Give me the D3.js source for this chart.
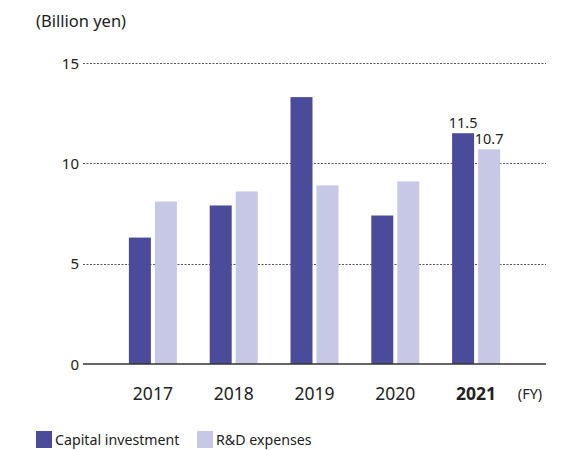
<!DOCTYPE html>
<html>
<head>
<meta charset="utf-8">
<script src="https://cdn.jsdelivr.net/npm/d3@7"></script>
<style>
  html, body { margin: 0; padding: 0; background: #fff; }
  svg { display: block; font-family: "Noto Sans", "Open Sans", sans-serif; }
</style>
</head>
<body>
<svg id="chart" width="579" height="450"></svg>
<script>
// Fiscal years and the two series (billion yen)
const years = ["2017", "2018", "2019", "2020", "2021"];
const capitalInvestment = [6.3, 7.9, 13.3, 7.4, 11.5];
const rdExpenses = [8.1, 8.6, 8.9, 9.1, 10.7];
const yTicks = [0, 5, 10, 15];
const seriesNames = ["Capital investment", "R&D expenses"];
const seriesColors = ["#4a4b9b", "#c7c8e6"];
const labelledYear = "2021";

(function draw() {
  const svg = d3.select("#chart");

  const plotLeft = 83, plotRight = 546, plotTop = 63, plotBottom = 364;

  const x = d3.scaleBand().domain(years).range([plotLeft, plotRight])
    .paddingInner(0).paddingOuter(0.365);
  const sub = d3.scaleBand().domain([0, 1]).range([-24, 24]).paddingInner(0.154);
  const y = d3.scaleLinear().domain([0, 15]).range([plotBottom, plotTop]);

  // Unit label
  svg.append("text").attr("x", 36).attr("y", 27)
    .attr("font-size", 16.5).attr("fill", "#222").text("(Billion yen)");

  // Dotted gridlines
  svg.append("g").selectAll("line").data(yTicks.filter(d => d > 0)).join("line")
    .attr("x1", plotLeft).attr("x2", plotRight)
    .attr("y1", d => Math.round(y(d)) + 0.5).attr("y2", d => Math.round(y(d)) + 0.5)
    .attr("stroke", "#555").attr("stroke-width", 1).attr("stroke-dasharray", "2,1.5");

  // Y tick labels
  svg.append("g").selectAll("text").data(yTicks).join("text")
    .attr("x", 79).attr("y", d => y(d) + 5.5)
    .attr("text-anchor", "end").attr("font-size", 15).attr("fill", "#222")
    .text(d => d);

  // Bars
  const rows = years.map((yr, i) => ({ year: yr, values: [capitalInvestment[i], rdExpenses[i]] }));
  const groups = svg.append("g").selectAll("g").data(rows).join("g")
    .attr("transform", d => `translate(${x(d.year) + x.bandwidth() / 2},0)`);

  groups.selectAll("rect").data(d => d.values.map((v, k) => ({ v, k, year: d.year }))).join("rect")
    .attr("x", d => sub(d.k)).attr("width", sub.bandwidth())
    .attr("y", d => y(d.v)).attr("height", d => y(0) - y(d.v))
    .attr("fill", d => seriesColors[d.k]);

  // Value labels for the latest year
  groups.filter(d => d.year === labelledYear).selectAll("text.val")
    .data(d => d.values.map((v, k) => ({ v, k }))).join("text")
    .attr("class", "val")
    .attr("x", d => sub(d.k) + sub.bandwidth() / 2)
    .attr("y", d => y(d.v) - 5)
    .attr("text-anchor", "middle").attr("font-size", 14.5).attr("fill", "#222")
    .text(d => d3.format(".1f")(d.v));

  // Baseline
  svg.append("line").attr("x1", plotLeft).attr("x2", plotRight)
    .attr("y1", y(0)).attr("y2", y(0))
    .attr("stroke", "#333").attr("stroke-width", 1.5);

  // X labels
  svg.append("g").selectAll("text").data(years).join("text")
    .attr("x", d => x(d) + x.bandwidth() / 2).attr("y", 400)
    .attr("text-anchor", "middle").attr("font-size", 17.5).attr("fill", "#222")
    .attr("font-weight", d => d === labelledYear ? "bold" : "normal")
    .text(d => d);

  svg.append("text").attr("x", 530).attr("y", 399)
    .attr("text-anchor", "middle").attr("font-size", 14.5).attr("fill", "#222").text("(FY)");

  // Legend
  const legend = svg.append("g").selectAll("g").data(seriesNames).join("g")
    .attr("transform", (d, i) => `translate(${[36, 197][i]},431)`);
  legend.append("rect").attr("width", 16).attr("height", 17)
    .attr("fill", (d, i) => seriesColors[i]);
  legend.append("text").attr("x", 19).attr("y", 14)
    .attr("font-size", 14.2).attr("fill", "#222").text(d => d);
})();
</script>
</body>
</html>
